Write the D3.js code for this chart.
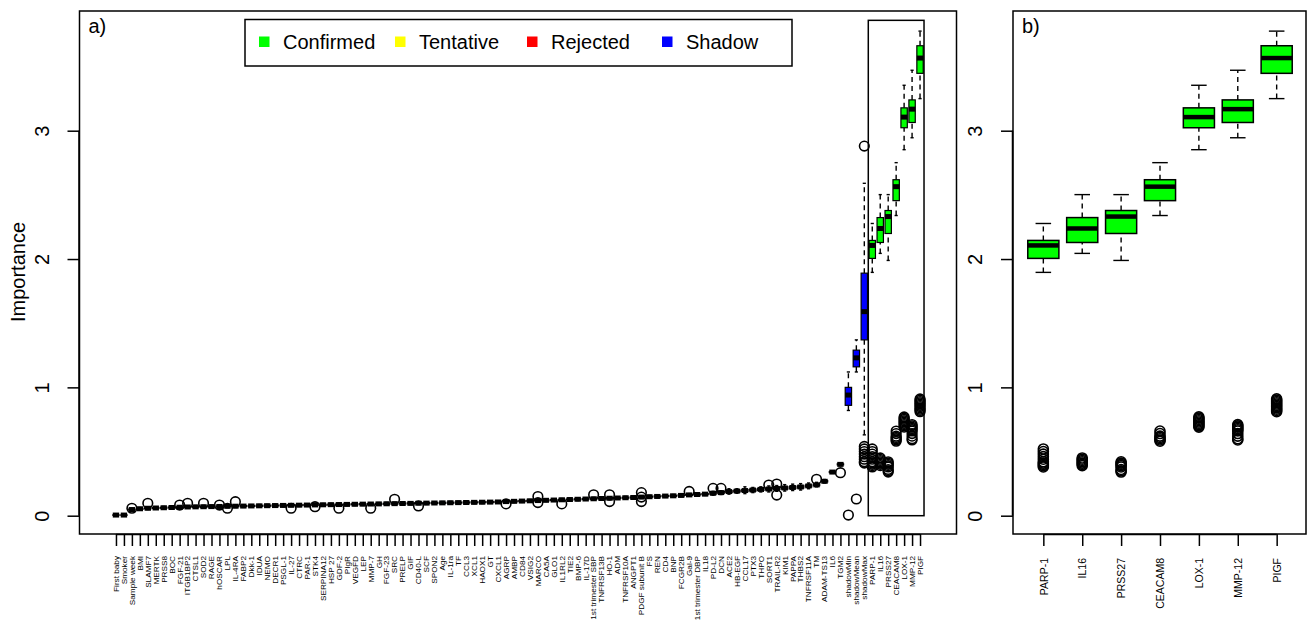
<!DOCTYPE html>
<html><head><meta charset="utf-8">
<script src="https://cdn.jsdelivr.net/npm/d3@7"></script>
<style>body{margin:0;background:#fff} svg{display:block} text{font-family:"Liberation Sans",Arial,Helvetica,sans-serif;fill:#000}</style>
</head><body><svg id="c" width="1307" height="624"></svg>
<script>
// ---------- DATA ----------
const features = ["First baby","Smoker","Sample week","BMI","SLAMF7","MERTK","PRSS8","BOC","FGF-21","ITGB1BP2","CTSL1","SOD2","RAGE","hOSCAR","LPL","IL-4RA","FABP2","Dkk-1","IDUA","NEMO","DECR1","PSGL-1","IL-27","CTRC","PAR-1","STK4","SERPINA12","HSP 27","GDF-2","PIgR","VEGFD","LEP","MMP-7","GH","FGF-23","SRC","PRELP","GIF","CD40-L","SCF","SPON2","Age","IL-1ra","TF","CCL3","XCL1","HAOX1","GT","CXCL1","AGRP","AMBP","CD84","VSIG2","MARCO","CA5A","GLO1","IL1RL2","TIE2","BMP-6","IL-17D","1st trimester SBP","TNFRSF13B","HO-1","ADM","TNFRSF10A","ANGPT1","PDGF subunit B","FS","REN","CD4","BNP","FCGR2B","Gal-9","1st trimester DBP","IL18","PD-L2","DCN","ACE2","HB-EGF","CCL17","PTX3","THPO","SORT1","TRAIL-R2","KIM1","PAPPA","THBS2","TNFRSF11A","TM","ADAM-TS13","IL6","TGM2","shadowMin","shadowMean","shadowMax","PARP-1","IL16","PRSS27","CEACAM8","LOX-1","MMP-12","PIGF"];

const shadowFeatures = ["shadowMin","shadowMean","shadowMax"];
const confirmedFeatures = ["PARP-1","IL16","PRSS27","CEACAM8","LOX-1","MMP-12","PIGF"];
const tentativeFeatures = [];

// five-number summaries, one row per feature: [lower whisker, Q1, median, Q3, upper whisker]
const boxStats = [
[0.002,0.004,0.005,0.006,0.008],[0.002,0.004,0.005,0.006,0.008],[0.038,0.044,0.048,0.052,0.058],[0.044,0.05,0.054,0.058,0.064],
[0.048,0.054,0.058,0.062,0.068],[0.05,0.056,0.06,0.064,0.07],[0.052,0.058,0.062,0.066,0.072],[0.054,0.06,0.064,0.068,0.074],
[0.056,0.062,0.066,0.07,0.076],[0.058,0.064,0.068,0.072,0.078],[0.059,0.065,0.069,0.073,0.079],[0.06,0.066,0.07,0.074,0.08],
[0.061,0.067,0.071,0.075,0.081],[0.062,0.068,0.072,0.076,0.082],[0.063,0.069,0.073,0.077,0.083],[0.064,0.07,0.074,0.078,0.084],
[0.065,0.071,0.075,0.079,0.085],[0.066,0.072,0.076,0.08,0.086],[0.067,0.073,0.077,0.081,0.087],[0.068,0.074,0.078,0.082,0.088],
[0.069,0.075,0.079,0.083,0.089],[0.07,0.076,0.08,0.084,0.09],[0.071,0.077,0.081,0.085,0.091],[0.072,0.078,0.082,0.086,0.092],
[0.073,0.079,0.083,0.087,0.093],[0.074,0.08,0.084,0.088,0.094],[0.075,0.081,0.085,0.089,0.095],[0.076,0.082,0.086,0.09,0.096],
[0.077,0.083,0.087,0.091,0.097],[0.078,0.084,0.088,0.092,0.098],[0.079,0.085,0.089,0.093,0.099],[0.08,0.086,0.09,0.094,0.1],
[0.081,0.087,0.091,0.095,0.101],[0.082,0.088,0.092,0.096,0.102],[0.083,0.089,0.093,0.097,0.103],[0.084,0.09,0.094,0.098,0.104],
[0.085,0.091,0.095,0.099,0.105],[0.086,0.092,0.096,0.1,0.106],[0.087,0.093,0.097,0.101,0.107],[0.088,0.094,0.098,0.102,0.108],
[0.089,0.095,0.099,0.103,0.109],[0.09,0.096,0.1,0.104,0.11],[0.091,0.097,0.101,0.105,0.111],[0.092,0.098,0.102,0.106,0.112],
[0.093,0.099,0.103,0.107,0.113],[0.094,0.1,0.104,0.108,0.114],[0.095,0.101,0.105,0.109,0.115],[0.096,0.102,0.106,0.11,0.116],
[0.097,0.103,0.107,0.111,0.117],[0.1,0.106,0.11,0.114,0.12],[0.102,0.108,0.112,0.116,0.122],[0.104,0.11,0.114,0.118,0.124],
[0.106,0.112,0.116,0.12,0.126],[0.108,0.114,0.118,0.122,0.128],[0.11,0.116,0.12,0.124,0.13],[0.112,0.118,0.122,0.126,0.132],
[0.114,0.12,0.124,0.128,0.134],[0.116,0.122,0.126,0.13,0.136],[0.118,0.124,0.128,0.132,0.138],[0.12,0.126,0.13,0.134,0.14],
[0.122,0.128,0.132,0.136,0.142],[0.124,0.13,0.134,0.138,0.144],[0.126,0.132,0.136,0.14,0.146],[0.128,0.134,0.138,0.142,0.148],
[0.13,0.136,0.14,0.144,0.15],[0.132,0.138,0.142,0.146,0.152],[0.135,0.141,0.145,0.149,0.155],[0.138,0.144,0.148,0.152,0.158],
[0.14,0.146,0.15,0.154,0.16],[0.143,0.149,0.153,0.157,0.163],[0.145,0.151,0.155,0.159,0.165],[0.148,0.154,0.158,0.162,0.168],
[0.152,0.158,0.162,0.166,0.172],[0.155,0.161,0.165,0.169,0.175],[0.158,0.164,0.168,0.172,0.178],[0.16,0.168,0.175,0.182,0.19],
[0.165,0.173,0.18,0.187,0.195],[0.168,0.18,0.188,0.195,0.21],[0.175,0.185,0.192,0.199,0.21],[0.172,0.188,0.196,0.204,0.225],
[0.18,0.192,0.2,0.208,0.22],[0.185,0.197,0.205,0.213,0.225],[0.185,0.2,0.208,0.216,0.232],[0.19,0.204,0.212,0.22,0.235],
[0.192,0.207,0.216,0.225,0.242],[0.196,0.211,0.22,0.229,0.246],[0.2,0.215,0.224,0.233,0.25],[0.21,0.224,0.232,0.24,0.255],
[0.225,0.234,0.24,0.246,0.26],[0.255,0.263,0.268,0.273,0.282],[0.33,0.336,0.34,0.344,0.35],[0.39,0.396,0.4,0.404,0.41],
[0.82,0.86,0.94,1.0,1.12],[1.12,1.16,1.23,1.29,1.37],[0.63,1.37,1.59,1.89,2.59],
[1.896,2.005,2.106,2.145,2.277],[2.044,2.129,2.238,2.323,2.502],[1.989,2.199,2.331,2.378,2.502],[2.339,2.455,2.564,2.618,2.751],
[2.852,3.023,3.106,3.178,3.354],[2.945,3.064,3.168,3.24,3.471],[3.25,3.447,3.566,3.662,3.776]
];

// outliers: [feature, value]
const outlierPoints = [
["Sample week",0.058],["SLAMF7",0.097],["FGF-21",0.083],["ITGB1BP2",0.097],["SOD2",0.097],["hOSCAR",0.083],["LPL",0.058],
["IL-4RA",0.109],["IL-27",0.058],["STK4",0.07],["GDF-2",0.058],["MMP-7",0.058],["SRC",0.128],["CD40-L",0.076],["AGRP",0.092],
["MARCO",0.149],["MARCO",0.102],["IL1RL2",0.092],["1st trimester SBP",0.163],["HO-1",0.163],["HO-1",0.11],
["PDGF subunit B",0.18],["PDGF subunit B",0.145],["PDGF subunit B",0.11],["Gal-9",0.189],["PD-L2",0.213],["DCN",0.213],
["SORT1",0.239],["TRAIL-R2",0.247],["TRAIL-R2",0.161],["TM",0.284],["TGM2",0.335],
["shadowMin",0.005],["shadowMean",0.13],
["shadowMax",2.88],["shadowMax",0.54],["shadowMax",0.52],["shadowMax",0.5],["shadowMax",0.48],["shadowMax",0.46],["shadowMax",0.44],["shadowMax",0.42],["shadowMax",0.41],
["PARP-1",0.52],["PARP-1",0.5],["PARP-1",0.48],["PARP-1",0.46],["PARP-1",0.44],["PARP-1",0.42],["PARP-1",0.41],["PARP-1",0.4],["PARP-1",0.39],["PARP-1",0.38],
["IL16",0.45],["IL16",0.44],["IL16",0.43],["IL16",0.42],["IL16",0.41],["IL16",0.4],["IL16",0.39],
["PRSS27",0.42],["PRSS27",0.41],["PRSS27",0.4],["PRSS27",0.39],["PRSS27",0.38],["PRSS27",0.36],["PRSS27",0.35],["PRSS27",0.34],
["CEACAM8",0.66],["CEACAM8",0.64],["CEACAM8",0.62],["CEACAM8",0.61],["CEACAM8",0.6],["CEACAM8",0.59],["CEACAM8",0.58],
["LOX-1",0.77],["LOX-1",0.76],["LOX-1",0.75],["LOX-1",0.74],["LOX-1",0.73],["LOX-1",0.72],["LOX-1",0.71],["LOX-1",0.7],["LOX-1",0.69],
["MMP-12",0.71],["MMP-12",0.7],["MMP-12",0.69],["MMP-12",0.68],["MMP-12",0.67],["MMP-12",0.66],["MMP-12",0.64],["MMP-12",0.62],["MMP-12",0.6],["MMP-12",0.59],
["PIGF",0.91],["PIGF",0.9],["PIGF",0.89],["PIGF",0.88],["PIGF",0.87],["PIGF",0.86],["PIGF",0.85],["PIGF",0.84],["PIGF",0.83],["PIGF",0.82],["PIGF",0.81]
];

const yTicks = [0,1,2,3];
const legendLabels = ["Confirmed","Tentative","Rejected","Shadow"];
const legendColors = ["#00FF00","#FFFF00","#FF0000","#0000FF"];
const highlightBox = [95.5, 0, 102.5, 3.86]; // xleft, ybottom, xright, ytop (data units)

// ---------- DRAW ----------
const svg = d3.select("#c");
const FONT = "Liberation Sans, Arial, sans-serif";
const colorOf = f => confirmedFeatures.includes(f) ? legendColors[0] : tentativeFeatures.includes(f) ? legendColors[1] : shadowFeatures.includes(f) ? legendColors[3] : legendColors[2];

const y = d3.scaleLinear().domain([0,3]).range([515.7,130.7]);
const plotTop = 11, plotBottom = 534;

function panel(o){
  const {featList, xScale, boxW, labelSize, labelY, labelTf, r, left, right, tag, medW, boxSW} = o;
  const g = svg.append("g");
  featList.forEach((f,i)=>{
    const s = boxStats[features.indexOf(f)];
    const cx = xScale(i+1);
    const col = colorOf(f);
    g.append("line").attr("x1",cx).attr("x2",cx).attr("y1",y(s[0])).attr("y2",y(s[1]))
      .attr("stroke","#000").attr("stroke-width",1.4).attr("stroke-dasharray","5,4");
    g.append("line").attr("x1",cx).attr("x2",cx).attr("y1",y(s[3])).attr("y2",y(s[4]))
      .attr("stroke","#000").attr("stroke-width",1.4).attr("stroke-dasharray","5,4");
    [s[0],s[4]].forEach(v=>g.append("line").attr("x1",cx-boxW/4).attr("x2",cx+boxW/4).attr("y1",y(v)).attr("y2",y(v))
      .attr("stroke","#000").attr("stroke-width",1.4));
    g.append("rect").attr("x",cx-boxW/2).attr("width",boxW).attr("y",y(s[3])).attr("height",Math.max(0.01,y(s[1])-y(s[3])))
      .attr("fill",col).attr("stroke","#000").attr("stroke-width",boxSW);
    g.append("line").attr("x1",cx-boxW/2).attr("x2",cx+boxW/2).attr("y1",y(s[2])).attr("y2",y(s[2]))
      .attr("stroke","#000").attr("stroke-width",medW);
  });
  outlierPoints.filter(p=>featList.includes(p[0])).forEach(p=>{
    g.append("circle").attr("cx",xScale(featList.indexOf(p[0])+1)).attr("cy",y(p[1])).attr("r",r)
      .attr("fill","none").attr("stroke","#000").attr("stroke-width",1.6);
  });
  g.append("rect").attr("x",left).attr("y",plotTop).attr("width",right-left).attr("height",plotBottom-plotTop)
    .attr("fill","none").attr("stroke","#000").attr("stroke-width",1.5);
  const xa = d3.axisBottom(xScale).tickValues(d3.range(1,featList.length+1)).tickSize(12).tickFormat(d=>featList[d-1]);
  const ax = g.append("g").attr("transform",`translate(0,${plotBottom})`).call(xa);
  ax.select(".domain").attr("d",`M${xScale(1)},0.5H${xScale(featList.length)}`).attr("stroke-width",1.5);
  ax.selectAll(".tick line").attr("stroke-width",1.5);
  ax.selectAll(".tick text").attr("transform",`translate(0,${labelY-plotBottom}) rotate(-90) ${labelTf}`)
    .attr("x",0).attr("y",0).attr("dy","0.35em").attr("text-anchor","end")
    .attr("font-size",labelSize).attr("font-family",FONT);
  const ya = d3.axisLeft(y).tickValues(yTicks).tickSize(12).tickFormat(d3.format("d"));
  const ay = g.append("g").attr("transform",`translate(${left},0)`).call(ya);
  ay.select(".domain").attr("d",`M-0.5,${y(0)}V${y(3)}`).attr("stroke-width",1.5);
  ay.selectAll(".tick line").attr("stroke-width",1.5);
  ay.selectAll(".tick text").attr("transform","translate(-38,0) rotate(-90)").attr("x",0).attr("y",0)
    .attr("dy","0.35em").attr("text-anchor","middle").attr("font-size",20).attr("font-family",FONT);
  g.append("text").attr("x",left+9).attr("y",33).attr("font-size",20).attr("font-family",FONT).text(tag);
  return g;
}

const xA = d3.scaleLinear().domain([0.5-0.04*features.length, features.length+0.5+0.04*features.length]).range([79.5,956.5]);
const gA = panel({featList:features, xScale:xA, boxW:0.8*(xA(2)-xA(1)), labelSize:8.2, labelY:556, labelTf:"scale(1,0.82)",
  r:4.8, left:79.5, right:956.5, tag:"a)", medW:5, boxSW:1.2});

const xB = d3.scaleLinear().domain([0.5-0.04*confirmedFeatures.length, confirmedFeatures.length+0.5+0.04*confirmedFeatures.length]).range([1013,1307]);
panel({featList:confirmedFeatures, xScale:xB, boxW:0.8*(xB(2)-xB(1)), labelSize:10.5, labelY:558, labelTf:"",
  r:5, left:1013, right:1306, tag:"b)", medW:4.5, boxSW:1.5});

gA.append("rect").attr("x",xA(highlightBox[0])).attr("y",y(highlightBox[3]))
  .attr("width",xA(highlightBox[2])-xA(highlightBox[0])).attr("height",y(highlightBox[1])-y(highlightBox[3]))
  .attr("fill","none").attr("stroke","#000").attr("stroke-width",1.5);

const lg = svg.append("g");
lg.append("rect").attr("x",245).attr("y",19.5).attr("width",547).attr("height",46.5).attr("fill","#fff").attr("stroke","#000").attr("stroke-width",1.5);
const legX = [264,400,532,667];
legendLabels.forEach((l,i)=>{
  lg.append("rect").attr("x",legX[i]-5).attr("y",36.5).attr("width",10.5).attr("height",10.5).attr("fill",legendColors[i]);
  lg.append("text").attr("x",legX[i]+19).attr("y",42).attr("dy","0.35em").attr("font-size",20).attr("font-family",FONT).text(l);
});

svg.append("text").attr("transform","translate(18,272) rotate(-90)").attr("text-anchor","middle").attr("dy","0.35em")
  .attr("font-size",20).attr("font-family",FONT).text("Importance");
</script></body></html>
